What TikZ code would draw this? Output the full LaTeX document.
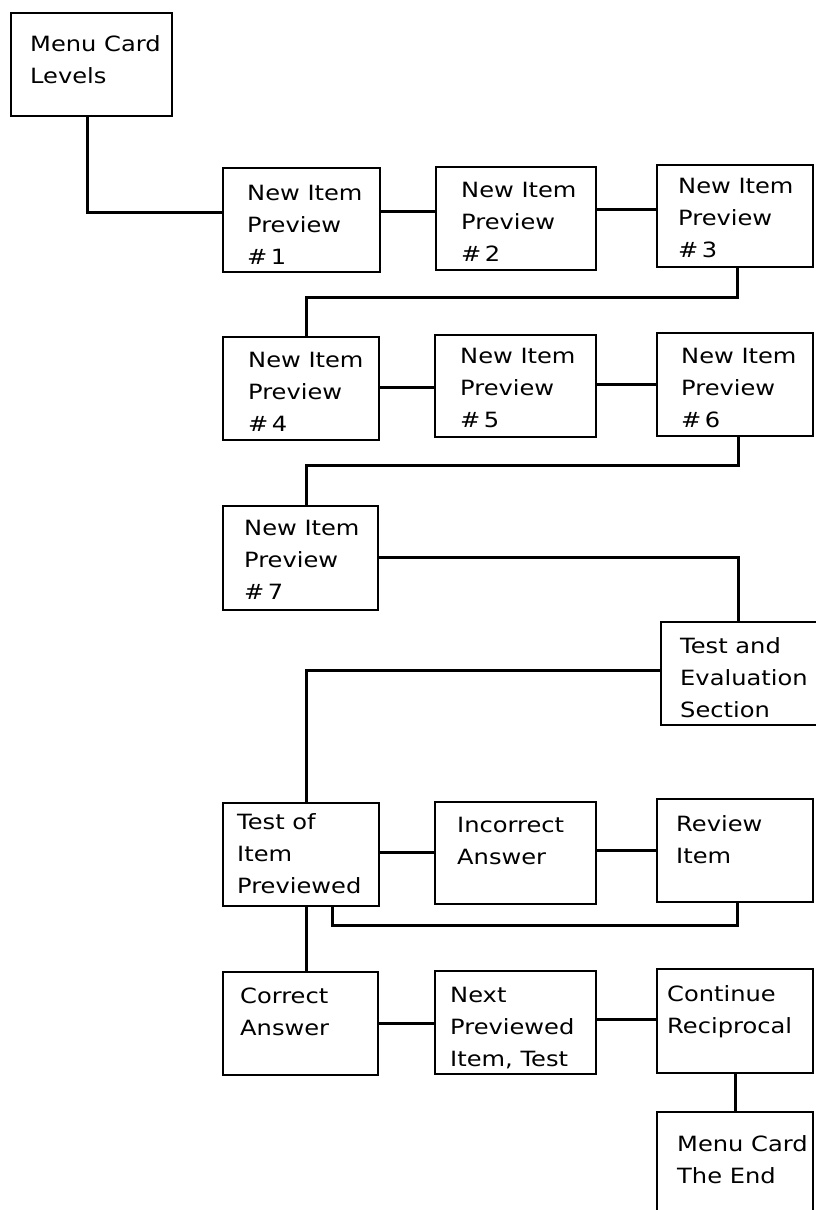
\documentclass[tikz,border=0pt]{standalone}
\usepackage{fontspec}
\setmainfont{DejaVu Sans}[FakeStretch=1.15]
\usetikzlibrary{calc}
\newcommand\flowbox[5]{\node[bx, minimum width={(#4-#2)*1pt}, minimum height={(#5-#3)*1pt}] (#1) at (#2,#3) {};}
\begin{document}
\begin{tikzpicture}[x=1pt,y=-1pt,
  bx/.style={draw, line width=1.7pt, inner sep=0pt, outer sep=0pt, anchor=north west},
  txt/.style={anchor=north west, inner sep=0pt, align=left, font=\fontsize{21}{32}\selectfont},
  link/.style={line width=3pt, line join=miter}]
\useasboundingbox (0,0) rectangle (815,1210);

\flowbox{mcl}{11}{13}{172}{116}
\flowbox{n1}{223}{168}{380}{272}
\flowbox{n2}{436}{167}{596}{270}
\flowbox{n3}{657}{165}{813}{267}
\flowbox{n4}{223}{337}{379}{440}
\flowbox{n5}{435}{335}{596}{437}
\flowbox{n6}{657}{333}{813}{436}
\flowbox{n7}{223}{506}{378}{610}
\flowbox{te}{661}{622}{818}{725}
\flowbox{ti}{223}{803}{379}{906}
\flowbox{ia}{435}{802}{596}{904}
\flowbox{ri}{657}{799}{813}{902}
\flowbox{ca}{223}{972}{378}{1075}
\flowbox{np}{435}{971}{596}{1074}
\flowbox{cr}{657}{969}{813}{1073}
\flowbox{me}{657}{1112}{813}{1240}

\node[txt] (t-mcl) at (30,35) {Menu Card\\Levels};
\node[txt] (t-n1) at (247,185) {New Item\\Preview\\\#\,1};
\node[txt] (t-n2) at (461,182) {New Item\\Preview\\\#\,2};
\node[txt] (t-n3) at (678,178) {New Item\\Preview\\\#\,3};
\node[txt] (t-n4) at (248,352) {New Item\\Preview\\\#\,4};
\node[txt] (t-n5) at (460,348) {New Item\\Preview\\\#\,5};
\node[txt] (t-n6) at (681,348) {New Item\\Preview\\\#\,6};
\node[txt] (t-n7) at (244,520) {New Item\\Preview\\\#\,7};
\node[txt] (t-te) at (680,637) {Test and\\Evaluation\\Section};
\node[txt] (t-ti) at (237,813) {Test of\\Item\\Previewed};
\node[txt] (t-ia) at (457,817) {Incorrect\\Answer};
\node[txt] (t-ri) at (676,815) {Review\\Item};
\node[txt] (t-ca) at (240,988) {Correct\\Answer};
\node[txt] (t-np) at (450,987) {Next\\Previewed\\Item, Test};
\node[txt] (t-cr) at (667,985) {Continue\\Reciprocal};
\node[txt] (t-me) at (677,1135) {Menu Card\\The End};

% connectors
\draw[link] ([xshift=-4.5pt]mcl.south) |- ([yshift=8pt]n1.west);
\coordinate (c2) at ([yshift=9pt]n1.east);
\draw[link] (c2) -- (c2 -| n2.west);
\coordinate (c3) at ([yshift=9.5pt]n2.east);
\draw[link] (c3) -- (c3 -| n3.west);
\draw[link] ([xshift=2pt]n3.south) -- ++(0,30) -| ([xshift=5pt]n4.north);
\coordinate (c4) at ([yshift=1.5pt]n4.east);
\draw[link] (c4) -- (c4 -| n5.west);
\coordinate (c5) at ([yshift=2pt]n5.east);
\draw[link] (c5) -- (c5 -| n6.west);
\draw[link] ([xshift=3pt]n6.south) -- ++(0,29) -| ([xshift=5.5pt]n7.north);
\draw[link] ([yshift=1pt]n7.east) -| ([xshift=-1.5pt]te.north);
\draw[link] ([yshift=3.5pt]te.west) -| ([xshift=5pt]ti.north);
\coordinate (c6) at ([yshift=2.5pt]ti.east);
\draw[link] (c6) -- (c6 -| ia.west);
\coordinate (c7) at ([yshift=3pt]ia.east);
\draw[link] (c7) -- (c7 -| ri.west);
\draw[link] ([xshift=2pt]ri.south) -- ++(0,23) -| ([xshift=31pt]ti.south);
\coordinate (c8) at ([xshift=5pt]ti.south);
\draw[link] (c8) -- (c8 |- ca.north);
\coordinate (c9) at ([yshift=0.5pt]ca.east);
\draw[link] (c9) -- (c9 -| np.west);
\coordinate (c10) at ([yshift=3.5pt]np.east);
\draw[link] (c10) -- (c10 -| cr.west);
\draw[link] (cr.south) -- (me.north);
\end{tikzpicture}
\end{document}
